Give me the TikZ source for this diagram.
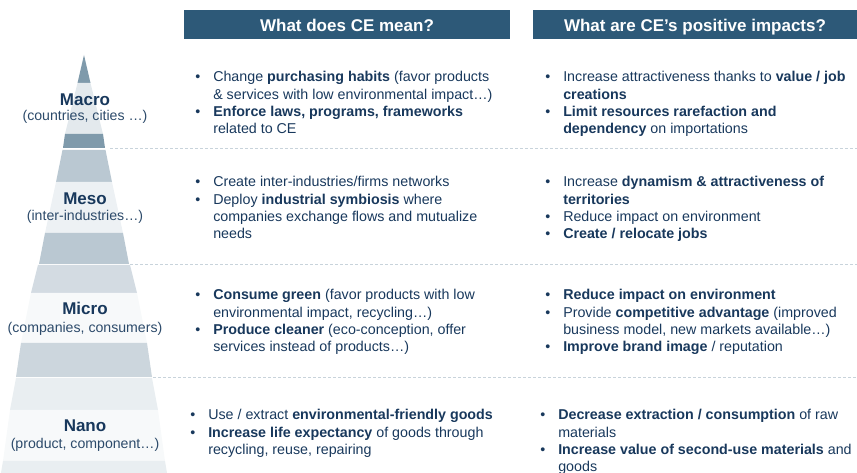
\documentclass[tikz,border=0pt]{standalone}
\usepackage{fontspec}
\setmainfont{Liberation Sans}
\usetikzlibrary{positioning}
\definecolor{hdrblue}{RGB}{45,89,120}
\definecolor{navy}{RGB}{24,56,92}
\definecolor{subnavy}{RGB}{44,74,106}
\definecolor{pyrdark}{RGB}{127,154,171}
\definecolor{pyrmid}{RGB}{186,200,210}
\definecolor{pyrpale}{RGB}{227,233,237}
\definecolor{pyrlight}{RGB}{237,241,244}
\definecolor{pyrsoft}{RGB}{211,219,226}
\definecolor{pyrsoftb}{RGB}{204,214,221}
\definecolor{pyrfaint}{RGB}{233,238,241}
\definecolor{pyrwhite}{RGB}{247,249,250}
\definecolor{sepgray}{RGB}{200,211,219}

\begin{document}
\begin{tikzpicture}[
    x=0.75pt, y=-0.75pt,
    header/.style={fill=hdrblue, text=white, font=\bfseries\fontsize{12.75}{15}\selectfont, minimum height=21.75pt, inner sep=0, text height=10.8pt, text depth=0pt},
    level/.style={anchor=base, inner sep=0, text=navy, font=\bfseries\fontsize{12.75}{15}\selectfont},
    sublevel/.style={anchor=base, inner sep=0, text=subnavy, font=\fontsize{10.6}{13}\selectfont},
    items/.style={anchor=base west, inner sep=0, text=navy, font=\fontsize{10.7}{13}\selectfont},
    sep/.style={sepgray, line width=0.75pt, dash pattern=on 2.25pt off 1.5pt}
  ]
    \useasboundingbox (0,0) rectangle (857,473);
    % pyramid bands
    \foreach \ya/\yb/\wa/\wb/\col in {55/83/0/6.5/pyrdark, 83/134/6.5/19/pyrpale, 134/148/19/21/pyrdark,
        150/182/21.5/28/pyrmid, 182/233/28/39/pyrlight, 233/264/39/45/pyrmid,
        265/293/46/53/pyrsoft, 293/343/53/63/pyrwhite, 343/377/63/68/pyrsoftb,
        378/410/68/74/pyrfaint, 410/461/74/81/pyrwhite, 461/473/81/83/pyrfaint}
      \fill[\col] (84-\wa,\ya) -- (84+\wa,\ya) -- (84+\wb,\yb) -- (84-\wb,\yb) -- cycle;

    % separators
    \draw[sep] (110,149) -- (857,149);
    \draw[sep] (130,264.5) -- (857,264.5);
    \draw[sep] (153,377.5) -- (857,377.5);

    % headers
    \node[header, minimum width=244.5pt] (hdmean) at (347,24.5) {What does CE mean?};
    \node[header, minimum width=243pt] (hdimpact) at (695,24.5) {What are CE’s positive impacts?};

    % levels
    \node[level] (macro) at (85,106) {Macro};
    \node[sublevel] (macrosub) at (85,121) {(countries, cities …)};
    \node[level] (meso) at (85,205) {Meso};
    \node[sublevel] (mesosub) at (85,221) {(inter-industries…)};
    \node[level] (micro) at (85,315) {Micro};
    \node[sublevel] (microsub) at (85,333) {(companies, consumers)};
    \node[level] (nano) at (85,432) {Nano};
    \node[sublevel] (nanosub) at (85,449) {(product, component…)};

    % macro
    \node[items] (macromean) at (195,82) {\begin{tabular}[t]{@{}p{13.5pt}@{}l@{}}
      • & Change \textbf{purchasing habits} (favor products\\
        & \& services with low environmental impact…)\\
      • & \textbf{Enforce laws, programs, frameworks}\\
        & related to CE
    \end{tabular}};
    \node[items] (macroimpact) at (545,82) {\begin{tabular}[t]{@{}p{13.5pt}@{}l@{}}
      • & Increase attractiveness thanks to \textbf{value / job}\\
        & \textbf{creations}\\
      • & \textbf{Limit resources rarefaction and}\\
        & \textbf{dependency} on importations
    \end{tabular}};

    % meso
    \node[items] (mesomean) at (195,187) {\begin{tabular}[t]{@{}p{13.5pt}@{}l@{}}
      • & Create inter-industries/firms networks\\
      • & Deploy \textbf{industrial symbiosis} where\\
        & companies exchange flows and mutualize\\
        & needs
    \end{tabular}};
    \node[items] (mesoimpact) at (545,187) {\begin{tabular}[t]{@{}p{13.5pt}@{}l@{}}
      • & Increase \textbf{dynamism \& attractiveness of}\\
        & \textbf{territories}\\
      • & Reduce impact on environment\\
      • & \textbf{Create / relocate jobs}
    \end{tabular}};

    % micro
    \node[items] (micromean) at (195,300) {\begin{tabular}[t]{@{}p{13.5pt}@{}l@{}}
      • & \textbf{Consume green} (favor products with low\\
        & environmental impact, recycling…)\\
      • & \textbf{Produce cleaner} (eco-conception, offer\\
        & services instead of products…)
    \end{tabular}};
    \node[items] (microimpact) at (545,300) {\begin{tabular}[t]{@{}p{13.5pt}@{}l@{}}
      • & \textbf{Reduce impact on environment}\\
      • & Provide \textbf{competitive advantage} (improved\\
        & business model, new markets available…)\\
      • & \textbf{Improve brand image} / reputation
    \end{tabular}};

    % nano
    \node[items] (nanomean) at (190,420) {\begin{tabular}[t]{@{}p{13.5pt}@{}l@{}}
      • & Use / extract \textbf{environmental-friendly goods}\\
      • & \textbf{Increase life expectancy} of goods through\\
        & recycling, reuse, repairing
    \end{tabular}};
    \node[items] (nanoimpact) at (540,420) {\begin{tabular}[t]{@{}p{13.5pt}@{}l@{}}
      • & \textbf{Decrease extraction / consumption} of raw\\
        & materials\\
      • & \textbf{Increase value of second-use materials} and\\
        & goods
    \end{tabular}};
\end{tikzpicture}
\end{document}
